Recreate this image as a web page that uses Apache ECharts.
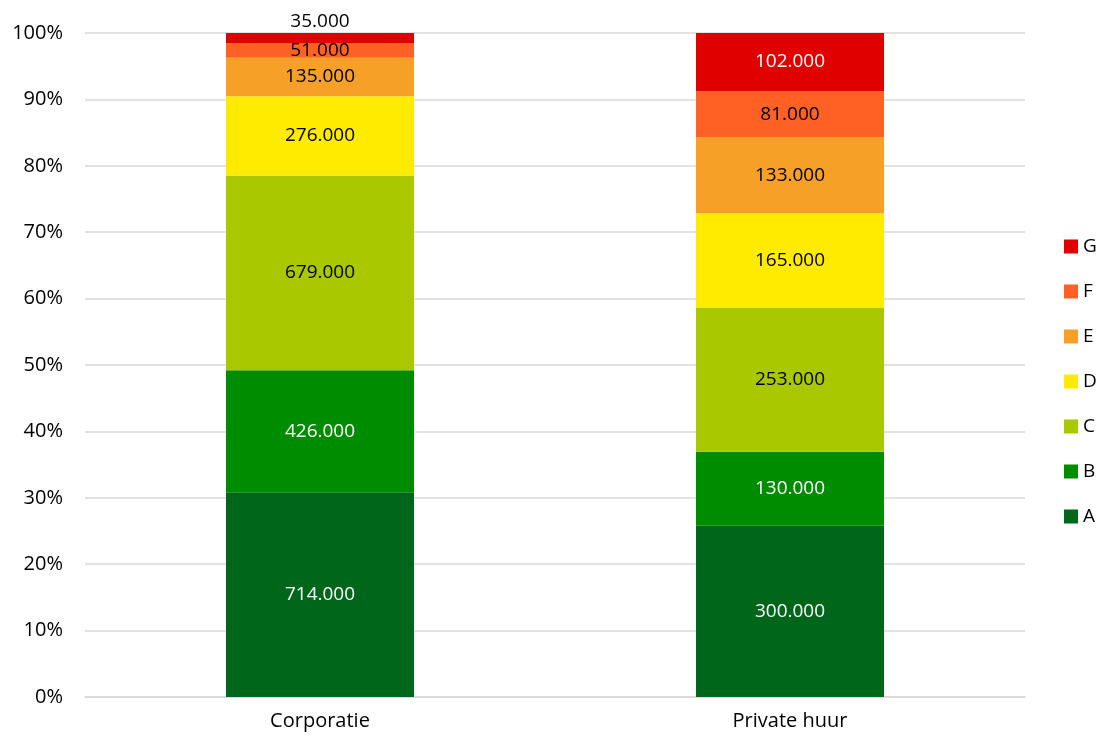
<!DOCTYPE html>
<html>
<head>
<meta charset="utf-8">
<script src="https://cdn.jsdelivr.net/npm/echarts@6/dist/echarts.min.js"></script>
<style>
  html, body { margin: 0; padding: 0; background: #fff; }
  #chart { width: 1100px; height: 739px; }
</style>
</head>
<body>
<div id="chart"></div>
<script>
const categories = ['Corporatie', 'Private huur'];
const labels = ['A', 'B', 'C', 'D', 'E', 'F', 'G'];
const valA = [714000, 300000];
const valB = [426000, 130000];
const valC = [679000, 253000];
const valD = [276000, 165000];
const valE = [135000, 133000];
const valF = [51000, 81000];
const valG = [35000, 102000];
const yTicks = [0, 10, 20, 30, 40, 50, 60, 70, 80, 90, 100];

const colors = ['#00661a', '#008c00', '#a9c800', '#ffeb00', '#f6a028', '#ff6125', '#e00000'];
const labelColors = ['#fff', '#fff', '#000', '#000', '#000', '#000', '#fff'];
const allVals = [valA, valB, valC, valD, valE, valF, valG];

const totals = categories.map((c, i) => allVals.reduce((s, v) => s + v[i], 0));
const fmt = n => String(n).replace(/\B(?=(\d{3})+(?!\d))/g, '.');
const font = '"Open Sans", sans-serif';

const series = allVals.map((vals, k) => ({
  name: labels[k],
  type: 'bar',
  stack: 'total',
  barWidth: '40%',
  itemStyle: { color: colors[k] },
  label: {
    show: true,
    position: 'inside',
    color: labelColors[k],
    fontSize: 19,
    fontFamily: font,
    formatter: p => fmt(vals[p.dataIndex])
  },
  data: vals.map((v, i) => {
    const d = { value: v / totals[i] * 100 };
    // small top segment: label sits above the bar
    if (k === 6 && i === 0) {
      d.label = { position: 'top', distance: 2, color: '#000' };
    }
    return d;
  })
}));

const chart = echarts.init(document.getElementById('chart'));
chart.setOption({
  animation: false,
  textStyle: { fontFamily: font },
  grid: { left: 85, right: 75, top: 33, bottom: 42 },
  legend: {
    orient: 'vertical',
    left: 1059,
    top: 232,
    itemWidth: 14,
    itemHeight: 14,
    itemGap: 26,
    icon: 'rect',
    data: labels.slice().reverse(),
    textStyle: { fontSize: 19, color: '#000', fontFamily: font }
  },
  xAxis: {
    type: 'category',
    data: categories,
    axisLine: { lineStyle: { color: '#d9d9d9', width: 1.5 } },
    axisTick: { show: false },
    axisLabel: { color: '#000', fontSize: 20, margin: 14, fontFamily: font }
  },
  yAxis: {
    type: 'value',
    min: yTicks[0],
    max: yTicks[yTicks.length - 1],
    interval: 10,
    axisLine: { show: false },
    axisTick: { show: false },
    splitLine: { lineStyle: { color: '#d9d9d9', width: 1.5 } },
    axisLabel: { color: '#000', fontSize: 20, margin: 22, fontFamily: font, formatter: '{value}%' }
  },
  series: series
});
</script>
</body>
</html>
